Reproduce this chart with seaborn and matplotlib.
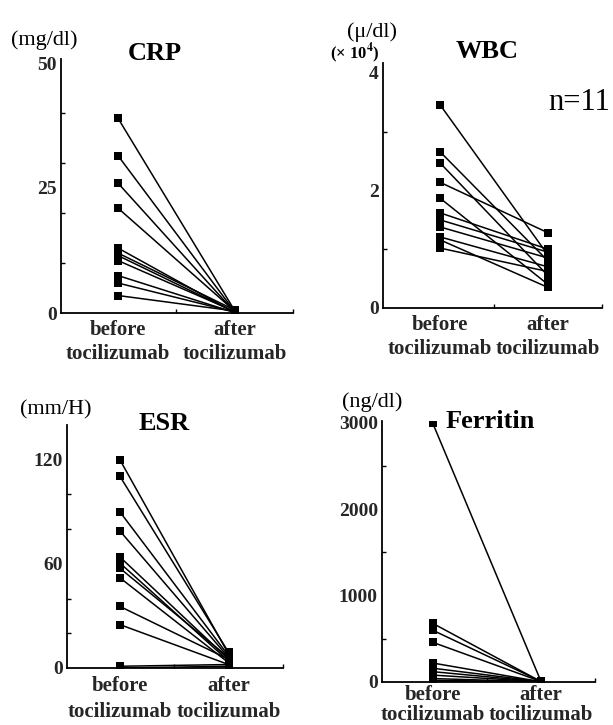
import numpy as np
import pandas as pd
import matplotlib
matplotlib.use("Agg")
import matplotlib.pyplot as plt
import seaborn as sns

# Laboratory values before / after tocilizumab (one line per patient)
phases = ["before\ntocilizumab", "after\ntocilizumab"]

crp_before = [39.0, 31.5, 26.0, 21.0, 13.0, 12.0, 11.5, 10.5, 7.5, 6.0, 3.5]
crp_after = [0.5, 0.3, 0.2, 0.4, 0.1, 0.6, 0.2, 0.3, 0.1, 0.2, 0.4]

wbc_before = [3.46, 2.66, 2.47, 2.14, 1.87, 1.62, 1.50, 1.38, 1.21, 1.16, 1.02]
wbc_after = [0.90, 0.80, 0.55, 1.28, 0.40, 1.00, 0.95, 0.85, 0.70, 0.35, 0.62]

esr_before = [120, 110.5, 90, 79, 64, 60.5, 57.5, 52, 35.5, 25, 1, 0]
esr_after = [8, 9, 7, 6, 5, 4, 6, 3, 5, 2, 2, 1]

ferritin_before = [3000, 680, 600, 460, 220, 160, 120, 80, 40, 20, 10]
ferritin_after = [10, 5, 8, 6, 3, 4, 2, 3, 2, 1, 1]

sns.set_theme(style="ticks")
plt.rcParams["font.family"] = ["Liberation Serif", "DejaVu Serif"]
plt.rcParams["mathtext.fontset"] = "stix"

W, H = 613, 725
fig = plt.figure(figsize=(W / 100, H / 100), dpi=100)


def rect(left, right, bottom, top):
    return [left / W, 1 - bottom / H, (right - left) / W, (bottom - top) / H]


def panel(box, before, after, xlim, ylim, major, minor, xpad=5, spacing=1.3):
    n = len(before)
    df = pd.DataFrame({
        "patient": list(range(n)) * 2,
        "x": [0] * n + [1] * n,
        "value": list(before) + list(after),
    })
    ax = fig.add_axes(box)
    sns.lineplot(data=df, x="x", y="value", units="patient", estimator=None,
                 color="black", linewidth=1.1, marker="s", markersize=5.5,
                 markeredgewidth=0, ax=ax, legend=False)
    ax.set_xlim(*xlim)
    ax.set_ylim(*ylim)
    ax.set_xlabel("")
    ax.set_ylabel("")
    ax.set_xticks([0, 1])
    ax.set_xticklabels(phases, fontsize=15, fontweight="bold",
                       linespacing=spacing)
    ax.set_xticks([0.5, 1.5], minor=True)
    ax.set_yticks(major)
    ax.set_yticklabels([str(v) for v in major], fontsize=14, fontweight="bold")
    ax.set_yticks(minor, minor=True)
    ax.tick_params(axis="y", which="major", length=0, pad=3)
    ax.tick_params(axis="x", which="major", length=0, pad=xpad)
    ax.tick_params(axis="both", which="minor", direction="in", length=3,
                   width=1, color="black")
    for s in ("top", "right"):
        ax.spines[s].set_visible(False)
    for s in ("left", "bottom"):
        ax.spines[s].set_linewidth(1.3)
        ax.spines[s].set_color("black")
    return ax


panel(rect(61, 293, 313, 59), crp_before, crp_after,
      (-0.487, 1.496), (0, 50.8), [0, 25, 50], [10, 20, 30, 40])
panel(rect(383, 602, 308, 63), wbc_before, wbc_after,
      (-0.528, 1.5), (0, 4.17), [0, 2, 4], [1, 3])
panel(rect(67, 283, 668, 425), esr_before, esr_after,
      (-0.486, 1.495), (0, 140), [0, 60, 120], [20, 40, 80, 100],
      xpad=6, spacing=1.35)
panel(rect(382, 595, 682, 421), ferritin_before, ferritin_after,
      (-0.468, 1.486), (0, 3023), [0, 1000, 2000, 3000], [500, 1500, 2500],
      xpad=2, spacing=1.0)


def label(x, y, s, size, weight="normal"):
    fig.text(x / W, 1 - y / H, s, ha="center", va="center",
             fontsize=size, fontweight=weight, color="black")


label(44, 40, "(mg/dl)", 16)
label(155, 53, "CRP", 19, "bold")
label(372, 32, "(μ/dl)", 16)
label(355, 53, "(× 10$^\\mathbf{4}$)", 12, "bold")
label(487, 52, "WBC", 19, "bold")
label(579, 103, "n=11", 22)
label(56, 410, "(mm/H)", 16)
label(164, 423, "ESR", 19, "bold")
label(372, 402, "(ng/dl)", 16)
label(490, 422, "Ferritin", 19, "bold")

fig.savefig("out.png", dpi=100, facecolor="white")
